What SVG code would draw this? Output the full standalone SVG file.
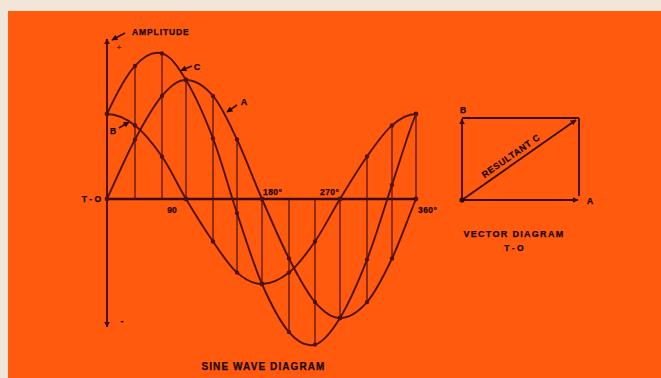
<svg xmlns="http://www.w3.org/2000/svg" width="661" height="378" viewBox="0 0 661 378">
<defs>
<style>
.bg{fill:#FF5A0E}
.curve{fill:none;stroke:#521208;stroke-width:1.9;stroke-linejoin:round}
.vl{stroke:#5a140c;stroke-width:1.3;fill:none}
.ax{stroke:#3a0c06;fill:none}
.dot{fill:#521208}
.lbl{font-family:"Liberation Sans",Arial,sans-serif;font-weight:bold;fill:#1a0604;stroke:#1a0604;stroke-width:0.25}
.ar{stroke:#3a0c06;stroke-width:1.6;fill:none}
</style>
<marker id="ah" viewBox="0 0 10 10" refX="9" refY="5" markerWidth="6" markerHeight="6" orient="auto-start-reverse" markerUnits="userSpaceOnUse">
<path d="M0,0 L10,5 L0,10 z" fill="#3a0c06"/>
</marker>
<marker id="ahs" viewBox="0 0 10 10" refX="9" refY="5" markerWidth="7" markerHeight="6" orient="auto" markerUnits="userSpaceOnUse">
<path d="M0,0 L10,5 L0,10 z" fill="#2a0804"/>
</marker>
</defs>
<rect x="0" y="0" width="661" height="378" fill="#f3e6d8"/>
<rect class="bg" x="8" y="11" width="653" height="367"/>

<g id="axes">
<line class="ax" x1="107" y1="39" x2="107" y2="327" stroke-width="1.8" marker-start="url(#ah)" marker-end="url(#ah)"/>
<line class="ax" x1="107" y1="199" x2="417" y2="199" stroke-width="2.6"/>
</g>

<g id="connectors">
<line class="vl" x1="135" y1="65.9" x2="135" y2="199"/>
<line class="vl" x1="162" y1="53.4" x2="162" y2="199"/>
<line class="vl" x1="186" y1="80" x2="186" y2="199"/>
<line class="vl" x1="213" y1="95.9" x2="213" y2="241.5"/>
<line class="vl" x1="237" y1="139.5" x2="237" y2="272.6"/>
<line class="vl" x1="262" y1="199" x2="262" y2="284"/>
<line class="vl" x1="289" y1="199" x2="289" y2="332.1"/>
<line class="vl" x1="315" y1="199" x2="315" y2="344.6"/>
<line class="vl" x1="340" y1="199" x2="340" y2="318"/>
<line class="vl" x1="367" y1="156.5" x2="367" y2="302.1"/>
<line class="vl" x1="392" y1="125.4" x2="392" y2="258.5"/>
<line class="vl" x1="416" y1="114" x2="416" y2="199"/>
<line class="ar" x1="125" y1="33" x2="112" y2="40" marker-end="url(#ahs)"/>
<line class="ar" x1="119" y1="128" x2="129" y2="122" marker-end="url(#ahs)"/>
<line class="ar" x1="192" y1="66" x2="181" y2="70.5" marker-end="url(#ahs)"/>
<line class="ar" x1="237" y1="105" x2="227" y2="112" marker-end="url(#ahs)"/>
</g>

<g id="curve-A">
<path class="curve" d="M107,199 C116.2,179.2 125.8,156.7 135,139.5 C144.2,122.3 153.5,105.8 162,95.9 C170.5,86 177.5,80 186,80 C194.5,80 204.5,86 213,95.9 C221.5,105.8 228.8,122.3 237,139.5 C245.2,156.7 253.3,179.2 262,199 C270.7,218.8 280.2,241.3 289,258.5 C297.8,275.7 306.5,292.2 315,302.1 C323.5,312 331.3,318 340,318 C348.7,318 358.3,312 367,302.1 C375.7,292.2 383.8,275.7 392,258.5 C400.2,241.3 407.7,218.8 416,199"/>
</g>
<g id="curve-B">
<path class="curve" d="M107,114 C116.2,114 125.8,118.3 135,125.4 C144.2,132.5 153.5,144.2 162,156.5 C170.5,168.8 177.5,184.8 186,199 C194.5,213.2 204.5,229.2 213,241.5 C221.5,253.8 228.8,265.5 237,272.6 C245.2,279.7 253.3,284 262,284 C270.7,284 280.2,279.7 289,272.6 C297.8,265.5 306.5,253.8 315,241.5 C323.5,229.2 331.3,213.2 340,199 C348.7,184.8 358.3,168.8 367,156.5 C375.7,144.2 383.8,132.5 392,125.4 C400.2,118.3 407.7,114 416,114"/>
</g>
<g id="curve-C">
<path class="curve" d="M107,114 C116.2,94.2 125.8,76 135,65.9 C144.2,55.8 153.5,51 162,53.4 C170.5,55.8 177.5,65.8 186,80 C194.5,94.2 204.5,116.2 213,138.4 C221.5,160.6 228.8,188.8 237,213.1 C245.2,237.4 253.3,264.2 262,284 C270.7,303.8 280.2,322 289,332.1 C297.8,342.2 306.5,347 315,344.6 C323.5,342.2 331.3,332.2 340,318 C348.7,303.8 358.3,281.8 367,259.6 C375.7,237.4 383.8,209.2 392,184.9 C400.2,160.6 407.7,133.8 416,114"/>
</g>

<g id="points">
<circle class="dot" cx="107" cy="199" r="2.4"/><circle class="dot" cx="107" cy="114" r="2.4"/>
<circle class="dot" cx="135" cy="139.5" r="2.2"/><circle class="dot" cx="135" cy="125.4" r="2.2"/><circle class="dot" cx="135" cy="65.9" r="2.2"/>
<circle class="dot" cx="162" cy="95.9" r="2.2"/><circle class="dot" cx="162" cy="156.5" r="2.2"/><circle class="dot" cx="162" cy="53.4" r="2.2"/>
<circle class="dot" cx="186" cy="80" r="2.4"/><circle class="dot" cx="186" cy="199" r="2.4"/>
<circle class="dot" cx="213" cy="95.9" r="2.2"/><circle class="dot" cx="213" cy="241.5" r="2.2"/><circle class="dot" cx="213" cy="138.4" r="2.2"/>
<circle class="dot" cx="237" cy="139.5" r="2.2"/><circle class="dot" cx="237" cy="272.6" r="2.2"/><circle class="dot" cx="237" cy="213.1" r="2.2"/>
<circle class="dot" cx="262" cy="199" r="2.4"/><circle class="dot" cx="262" cy="284" r="2.4"/>
<circle class="dot" cx="289" cy="258.5" r="2.2"/><circle class="dot" cx="289" cy="272.6" r="2.2"/><circle class="dot" cx="289" cy="332.1" r="2.2"/>
<circle class="dot" cx="315" cy="302.1" r="2.2"/><circle class="dot" cx="315" cy="241.5" r="2.2"/><circle class="dot" cx="315" cy="344.6" r="2.2"/>
<circle class="dot" cx="340" cy="318" r="2.4"/><circle class="dot" cx="340" cy="199" r="2.4"/>
<circle class="dot" cx="367" cy="302.1" r="2.2"/><circle class="dot" cx="367" cy="156.5" r="2.2"/><circle class="dot" cx="367" cy="259.6" r="2.2"/>
<circle class="dot" cx="392" cy="258.5" r="2.2"/><circle class="dot" cx="392" cy="125.4" r="2.2"/><circle class="dot" cx="392" cy="184.9" r="2.2"/>
<circle class="dot" cx="416" cy="199" r="2.4"/><circle class="dot" cx="416" cy="114" r="2.4"/>
</g>

<g id="sine-labels">
<text class="lbl" x="132" y="35" font-size="8.5" letter-spacing="0.9">AMPLITUDE</text>
<text class="lbl" x="119" y="50" font-size="8" text-anchor="middle" fill-opacity="0.6" stroke-opacity="0.4">+</text>
<text class="lbl" x="122" y="324" font-size="9" text-anchor="middle">-</text>
<text class="lbl" x="113" y="134" font-size="8.5" text-anchor="middle">B</text>
<text class="lbl" x="197" y="69.5" font-size="9" text-anchor="middle">C</text>
<text class="lbl" x="244" y="105" font-size="9" text-anchor="middle">A</text>
<text class="lbl" x="101" y="202" font-size="8.5" text-anchor="end">T - O</text>
<text class="lbl" x="172" y="213" font-size="8.5" text-anchor="middle">90</text>
<text class="lbl" x="263" y="195" font-size="8.5" letter-spacing="0.4">180°</text>
<text class="lbl" x="320" y="195" font-size="8.5" letter-spacing="0.4">270°</text>
<text class="lbl" x="418" y="213" font-size="8.5" letter-spacing="0.4">360°</text>
<text class="lbl" x="263.5" y="370" font-size="10" text-anchor="middle" letter-spacing="1.1">SINE WAVE DIAGRAM</text>
</g>

<g id="vector-diagram">
<line class="ax" x1="462" y1="118" x2="579" y2="118" stroke-width="1.8"/>
<line class="ax" x1="579" y1="118" x2="579" y2="196" stroke-width="1.8"/>
<line class="ax" x1="462" y1="200" x2="462" y2="119" stroke-width="1.8" marker-end="url(#ah)"/>
<line class="ax" x1="462" y1="200" x2="578" y2="200" stroke-width="1.8" marker-end="url(#ah)"/>
<line class="ax" x1="462" y1="200" x2="576" y2="120" stroke-width="1.8" marker-end="url(#ah)"/>
<circle cx="462" cy="200" r="2.6" fill="#2a0804"/>
<text class="lbl" x="463" y="113" font-size="8.5" text-anchor="middle">B</text>
<text class="lbl" x="590" y="204" font-size="9" text-anchor="middle">A</text>
<text class="lbl" x="511" y="159" font-size="9" text-anchor="middle" transform="rotate(-35 511 156)" letter-spacing="0.6">RESULTANT C</text>
<text class="lbl" x="514" y="237" font-size="9" text-anchor="middle" letter-spacing="1.3">VECTOR DIAGRAM</text>
<text class="lbl" x="514" y="251" font-size="8.5" text-anchor="middle">T - O</text>
</g>
</svg>
